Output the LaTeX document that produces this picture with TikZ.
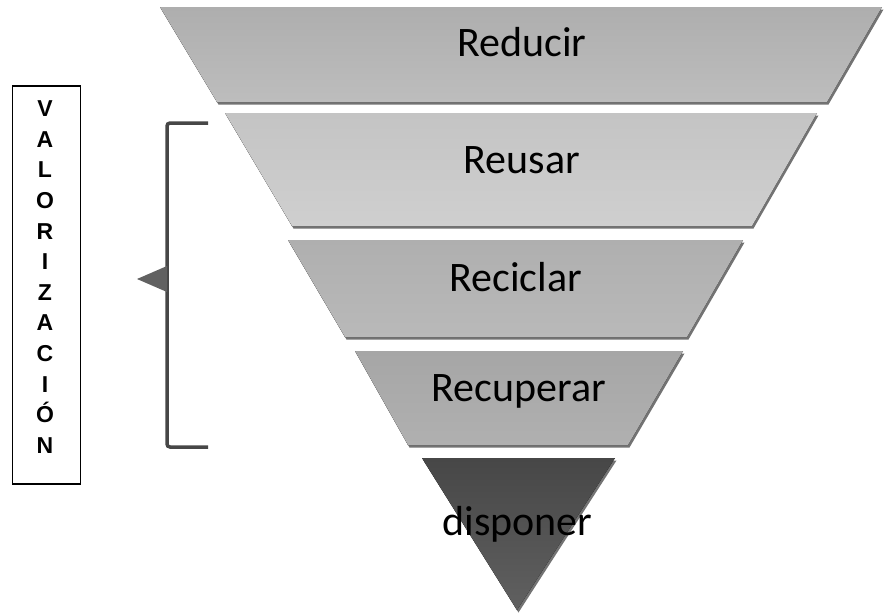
\documentclass[tikz,border=0pt]{standalone}
\usepackage{fontspec}
\setmainfont{Carlito}
\newfontfamily\boxfont{Liberation Sans}
\usetikzlibrary{shadows,positioning}
\definecolor{redtop}{HTML}{AEAEAE}
\definecolor{redbot}{HTML}{BDBDBD}
\definecolor{reutop}{HTML}{C4C4C4}
\definecolor{reubot}{HTML}{CFCFCF}
\definecolor{rectop}{HTML}{AFAFAF}
\definecolor{recbot}{HTML}{B9B9B9}
\definecolor{cuptop}{HTML}{A6A6A6}
\definecolor{cupbot}{HTML}{B0B0B0}
\definecolor{distop}{HTML}{474747}
\definecolor{disbot}{HTML}{606060}
\edef\sizelabel{42}
\tikzstyle{layer}=[drop shadow={shadow xshift=1.5pt,shadow yshift=-2.5pt,opacity=0.55,fill=black}]
\tikzstyle{layertext}=[font=\fontsize{\sizelabel}{44}\selectfont, anchor=base, inner sep=0pt]
\tikzstyle{letter}=[font=\boxfont\bfseries\fontsize{23}{24}\selectfont, anchor=base, inner sep=0pt]

\begin{document}
\begin{tikzpicture}[x=1pt,y=-1pt]
\useasboundingbox (0,0) rectangle (884,614);

% funnel
\fill[layer, top color=redtop, bottom color=redbot] (160,7) -- (882,7) -- (827,102) -- (217,102) -- cycle;
\fill[layer, top color=reutop, bottom color=reubot] (225,113) -- (817,113) -- (752,226) -- (292,226) -- cycle;
\fill[layer, top color=rectop, bottom color=recbot] (288,240) -- (743,240) -- (687,337) -- (345,337) -- cycle;
\fill[layer, top color=cuptop, bottom color=cupbot] (355,351) -- (683,351) -- (628,445) -- (408,445) -- cycle;
\fill[layer, top color=distop, bottom color=disbot] (422,458) -- (615,458) -- (517,610) -- cycle;

\node[layertext] (reducir) at (522,56.7) {Reducir};
\node[layertext] (reusar) at (522,173) {Reusar};
\node[layertext] (reciclar) at (515.5,291.7) {Reciclar};
\node[layertext] (recuperar) at (519,401.7) {Recuperar};
\node[layertext] (disponer) at (517.5,535) {disponer};

% bracket
\coordinate (btop) at (208,123);
\coordinate (bbot) at (208,447);
\draw[line width=3.5pt, color=black!72, rounded corners=3pt] (btop) -- (167,123) -- (167,447) -- (bbot);
\fill[black!62] (137,279) -- (167,266) -- (167,292) -- cycle;

% vertical label
\node[draw, line width=1.6pt, minimum width=68pt, minimum height=398pt, anchor=north west, inner sep=0pt] (box) at (11.7,85) {};
\foreach \ch [count=\k from 0] in {V,A,L,O,R,I,Z,A,C,I,Ó,N}
  \node[letter] (l\k) at (45,116.7+30.6*\k) {\ch};
\end{tikzpicture}
\end{document}
